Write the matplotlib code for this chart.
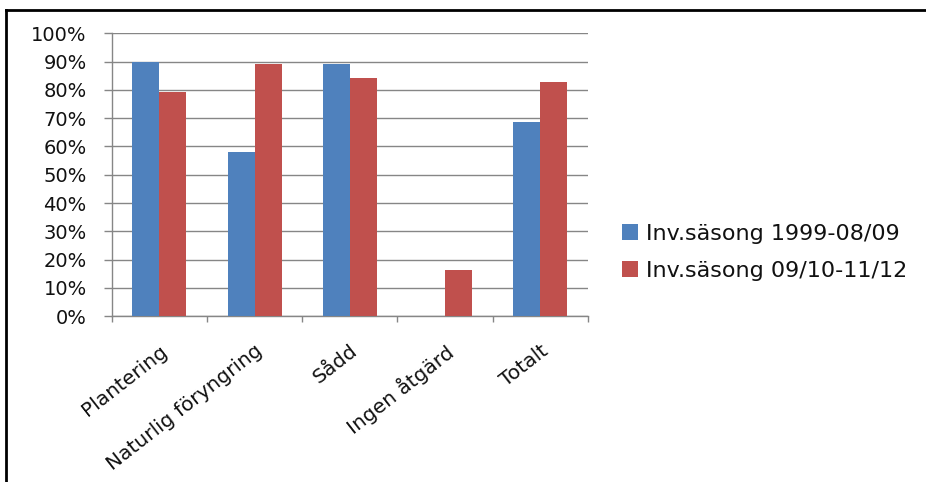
import numpy as np
import matplotlib.pyplot as plt
from matplotlib.lines import Line2D
from matplotlib.ticker import PercentFormatter

plt.rcParams['font.family'] = ['DejaVu Sans']

# Andel per åtgärd och inventeringssäsong
categories = ['Plantering', 'Naturlig föryngring', 'Sådd', 'Ingen åtgärd', 'Totalt']
season_1 = [90.0, 57.9, 89.1, 0.0, 68.5]
season_2 = [79.2, 89.0, 84.3, 16.5, 82.9]
series_names = ['Inv.säsong 1999-08/09', 'Inv.säsong 09/10-11/12']
yticks = np.arange(0, 101, 10)

blue = '#4F81BD'
red = '#C0504D'
grid_col = '#868686'

fig = plt.figure(figsize=(9.26, 4.82), dpi=100)
ax = fig.add_axes([0.1206, 0.344, 0.5144, 0.587])

x = np.arange(len(categories))
w = 0.283
b1 = ax.bar(x - w / 2, season_1, width=w, color=blue, label=series_names[0], zorder=3)
b2 = ax.bar(x + w / 2, season_2, width=w, color=red, label=series_names[1], zorder=3)

ax.set_xlim(-0.5, len(categories) - 0.5)
ax.set_ylim(0, 100)
ax.set_yticks(yticks)
ax.yaxis.set_major_formatter(PercentFormatter(decimals=0))
ax.yaxis.grid(True, color=grid_col, linewidth=1.0, zorder=0)
ax.set_axisbelow(True)

# category boundaries carry the x ticks
ax.set_xticks(np.arange(-0.5, len(categories), 1.0))
ax.set_xticklabels([])
ax.set_xticks(x, minor=True)
ax.set_xticklabels(categories, minor=True, rotation=38, ha='right',
                   rotation_mode='anchor', fontsize=14.5, color='#111111')
ax.tick_params(axis='x', which='minor', length=0, pad=18)
ax.tick_params(axis='x', which='major', length=4, color=grid_col, width=1)
ax.tick_params(axis='y', length=6, color=grid_col, width=1, labelsize=14,
               pad=12, labelcolor='#111111')

for s in ['top', 'right']:
    ax.spines[s].set_visible(False)
for s in ['left', 'bottom']:
    ax.spines[s].set_color(grid_col)
    ax.spines[s].set_linewidth(1.0)

ax.legend(handles=[b1, b2], loc='center left', bbox_to_anchor=(1.03, 0.226),
          frameon=False, fontsize=16, handlelength=0.7, handleheight=0.7,
          handletextpad=0.35, labelspacing=0.75, labelcolor='#111111')

# outer frame, top and left edges
fig.add_artist(Line2D([6 / 926, 1.0], [1 - 10 / 482, 1 - 10 / 482],
                      transform=fig.transFigure, color='black', linewidth=2))
fig.add_artist(Line2D([6 / 926, 6 / 926], [0.0, 1 - 10 / 482],
                      transform=fig.transFigure, color='black', linewidth=2))

fig.savefig('out.png', dpi=100)
